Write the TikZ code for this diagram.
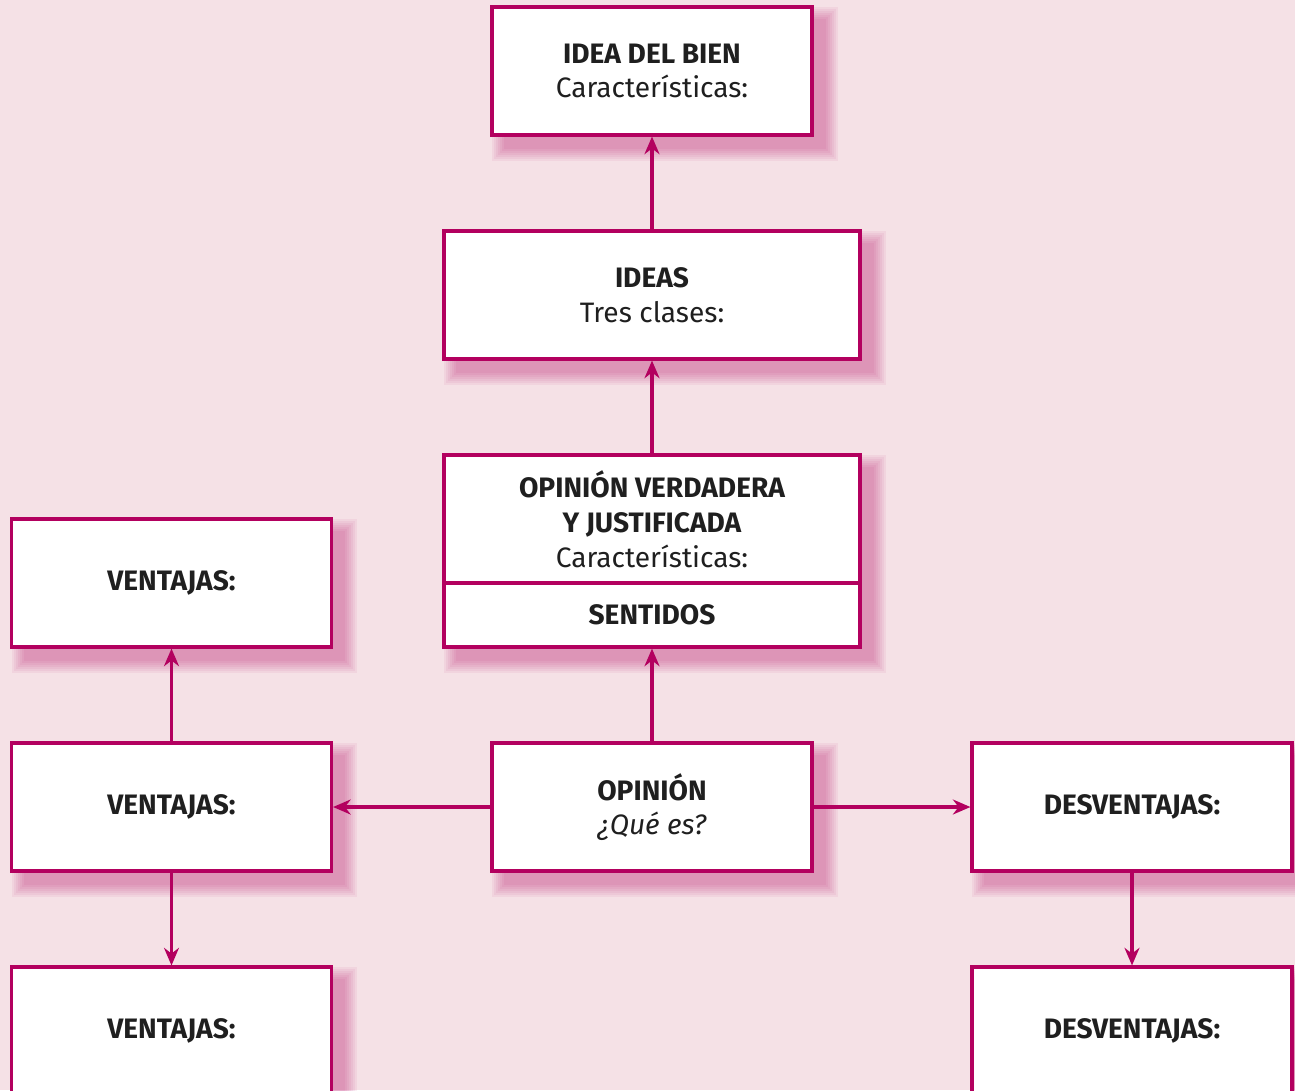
\documentclass[tikz,border=0pt]{standalone}
\usepackage{fontspec}
\setmainfont{Fira Sans}
\usetikzlibrary{arrows.meta}
\definecolor{fondo}{HTML}{F5E1E6}
\definecolor{borde}{HTML}{B3005F}
\definecolor{sombra}{HTML}{B3005F}
\pgfdeclarelayer{capafondo}
\pgfdeclarelayer{capasombra}
\pgfsetlayers{capafondo,capasombra,main}

\begin{document}
\begin{tikzpicture}[x=0.02cm, y=-0.02cm,
    caja/.style={draw=borde, line width=1.8pt, fill=white, align=center,
        minimum width=6.4cm, minimum height=2.56cm, inner sep=0pt,
        text=black!88, font=\fontsize{16}{19.8}\selectfont\bfseries},
    ancha/.style={caja, minimum width=8.32cm},
    flecha/.style={draw=borde, line width=1.8pt, -{Stealth[length=10pt, width=8.5pt]}}]
    \useasboundingbox (0,0) rectangle (1295,1090);
    \clip (0,0) rectangle (1295,1090);
    \begin{pgfonlayer}{capafondo}
        \fill[fondo] (0,0) rectangle (1295,1090);
    \end{pgfonlayer}

    \node[caja] (bien) at (652, 71) {IDEA DEL BIEN\\ \mdseries Características:};
    \node[ancha] (ideas) at (652, 295) {IDEAS\\ \mdseries Tres clases:};
    \node[ancha] (verdadera) at (652, 519) {OPINIÓN VERDADERA\\ Y JUSTIFICADA\\ \mdseries Características:};
    \node[ancha, minimum height=1.28cm] (sentidos) at (652, 615) {SENTIDOS};
    \node[caja] (opinion) at (652, 807) {OPINIÓN\\ \mdseries\itshape ¿Qué es?};
    \node[caja] (ventajasa) at (171.5, 583) {VENTAJAS:};
    \node[caja] (ventajasb) at (171.5, 807) {VENTAJAS:};
    \node[caja] (ventajasc) at (171.5, 1031) {VENTAJAS:};
    \node[caja] (desventajasa) at (1132, 807) {DESVENTAJAS:};
    \node[caja] (desventajasb) at (1132, 1031) {DESVENTAJAS:};

    % sombras difuminadas
    \begin{pgfonlayer}{capasombra}
        \foreach \a/\b in {bien/bien, ideas/ideas, verdadera/sentidos, opinion/opinion,
                ventajasa/ventajasa, ventajasb/ventajasb, ventajasc/ventajasc,
                desventajasa/desventajasa, desventajasb/desventajasb}
            \foreach \k in {0,...,6}
                \fill[sombra, opacity=0.055] ([shift={(2+2*\k, 2+2*\k)}]\a.north west)
                    rectangle ([shift={(24-2*\k, 24-2*\k)}]\b.south east);
    \end{pgfonlayer}

    \draw[flecha] (ideas) -- (bien);
    \draw[flecha] (verdadera) -- (ideas);
    \draw[flecha] (opinion) -- (sentidos);
    \draw[flecha] (opinion) -- (ventajasb);
    \draw[flecha] (opinion) -- (desventajasa);
    \draw[flecha] (ventajasb) -- (ventajasa);
    \draw[flecha] (ventajasb) -- (ventajasc);
    \draw[flecha] (desventajasa) -- (desventajasb);
\end{tikzpicture}
\end{document}
